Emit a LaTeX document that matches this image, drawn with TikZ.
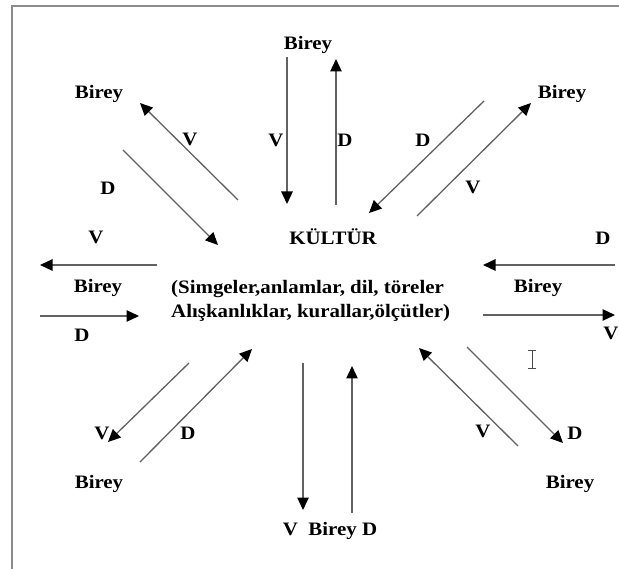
\documentclass[tikz,border=0pt]{standalone}
\usepackage{fontspec}
\setmainfont{Liberation Serif}[FakeStretch=1.1]
\usetikzlibrary{arrows.meta}
\begin{document}
\begin{tikzpicture}[x=1pt,y=-1pt,
  lbl/.style={font=\bfseries\fontsize{19}{22}\selectfont, inner sep=0pt, anchor=base},
  title/.style={font=\bfseries\fontsize{19}{22}\selectfont, inner sep=0pt, anchor=base},
  body/.style={font=\bfseries\fontsize{19}{22}\selectfont, inner sep=0pt, anchor=base west},
  flow/.style={draw=black!62, line width=1.3pt,
    -{Triangle[length=12.5pt,width=11.5pt,color=black]}},
  frame/.style={draw=black!45, line width=1.4pt}]
\useasboundingbox (0,0) rectangle (619,569);

% window edge
\coordinate (fTR) at (619,6);
\coordinate (fTL) at (12,6);
\coordinate (fBL) at (12,569);
\draw[frame] (fTR) -- (fTL) -- (fBL);

% centre
\node[title] (kultur) at (333,245) {KÜLTÜR};
\node[body] (c1) at (171,294) {(Simgeler,anlamlar, dil, töreler};
\node[body] (c2) at (171,318) {Alışkanlıklar, kurallar,ölçütler)};

% individuals
\node[lbl] (bT)  at (308,50)  {Birey};
\node[lbl] (bTL) at (99,99)   {Birey};
\node[lbl] (bTR) at (562,99)  {Birey};
\node[lbl] (bL)  at (98,293)  {Birey};
\node[lbl] (bR)  at (538,293) {Birey};
\node[lbl] (bBL) at (99,488)  {Birey};
\node[lbl] (bBR) at (570,488) {Birey};
\node[lbl] (bB)  at (330,535) {V\ \ Birey D};

% V / D labels
\node[lbl] (vTL) at (190,146) {V};
\node[lbl] (dTL) at (108,195) {D};
\node[lbl] (vT)  at (276,147) {V};
\node[lbl] (dT)  at (345,147) {D};
\node[lbl] (dTR) at (423,147) {D};
\node[lbl] (vTR) at (473,194) {V};
\node[lbl] (vL)  at (96,244)  {V};
\node[lbl] (dL)  at (82,342)  {D};
\node[lbl] (dR)  at (603,245) {D};
\node[lbl] (vR)  at (611,340) {V};
\node[lbl] (vBL) at (102,439) {V};
\node[lbl] (dBL) at (188,439) {D};
\node[lbl] (vBR) at (483,438) {V};
\node[lbl] (dBR) at (575,439) {D};

% arrow end points
\coordinate (tA1) at (287,57);  \coordinate (tA2) at (287,204);
\coordinate (tB1) at (336,205); \coordinate (tB2) at (336,59);
\coordinate (tlA1) at (238,200); \coordinate (tlA2) at (140,103);
\coordinate (tlB1) at (123,150); \coordinate (tlB2) at (218,245);
\coordinate (trA1) at (484,101); \coordinate (trA2) at (369,213);
\coordinate (trB1) at (417,216); \coordinate (trB2) at (531,103);
\coordinate (lA1) at (157,265); \coordinate (lA2) at (40,265);
\coordinate (lB1) at (40,316);  \coordinate (lB2) at (139,316);
\coordinate (rA1) at (615,265); \coordinate (rA2) at (483,265);
\coordinate (rB1) at (483,315); \coordinate (rB2) at (615,315);
\coordinate (blA1) at (189,363); \coordinate (blA2) at (108,442);
\coordinate (blB1) at (140,462); \coordinate (blB2) at (252,349);
\coordinate (brA1) at (518,446); \coordinate (brA2) at (419,348);
\coordinate (brB1) at (467,347); \coordinate (brB2) at (563,443);
\coordinate (bA1) at (303,363); \coordinate (bA2) at (303,510);
\coordinate (bB1) at (352,513); \coordinate (bB2) at (352,366);

\draw[flow] (tA1) -- (tA2);
\draw[flow] (tB1) -- (tB2);
\draw[flow] (tlA1) -- (tlA2);
\draw[flow] (tlB1) -- (tlB2);
\draw[flow] (trA1) -- (trA2);
\draw[flow] (trB1) -- (trB2);
\draw[flow] (lA1) -- (lA2);
\draw[flow] (lB1) -- (lB2);
\draw[flow] (rA1) -- (rA2);
\draw[flow] (rB1) -- (rB2);
\draw[flow] (blA1) -- (blA2);
\draw[flow] (blB1) -- (blB2);
\draw[flow] (brA1) -- (brA2);
\draw[flow] (brB1) -- (brB2);
\draw[flow] (bA1) -- (bA2);
\draw[flow] (bB1) -- (bB2);

% text cursor
\draw[black!70, line width=1pt]
  (528,351) -- (536,351) (532,351) -- (532,369) (528,369) -- (536,369);
\end{tikzpicture}
\end{document}
